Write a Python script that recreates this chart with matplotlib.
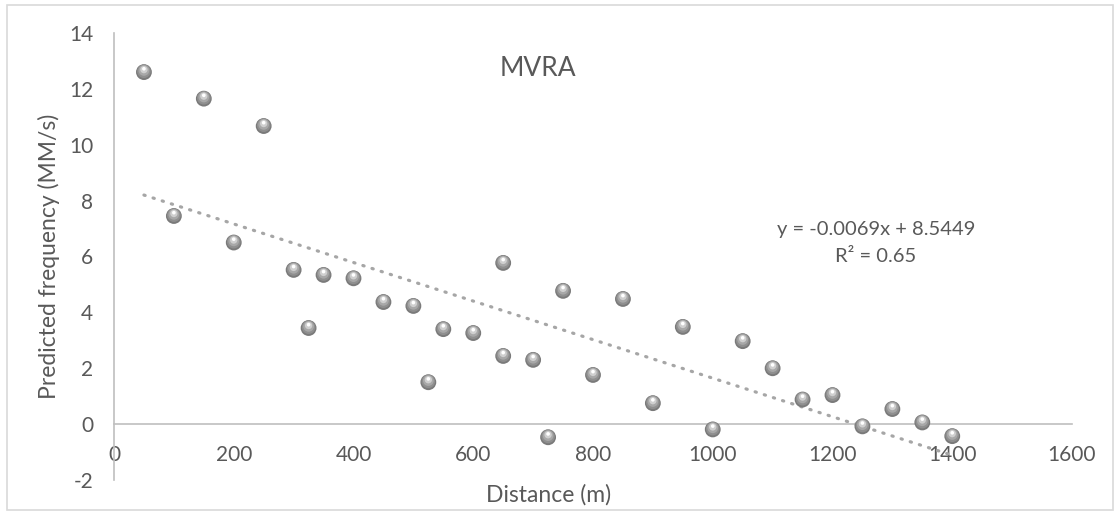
import matplotlib
matplotlib.use("Agg")
import matplotlib.pyplot as plt
import matplotlib.transforms as mtransforms
from matplotlib.patches import Rectangle
import numpy as np

distance = [50, 100, 150, 200, 250, 300, 325, 350, 400, 450, 500, 525, 550, 600,
            650, 650, 700, 725, 750, 800, 850, 900, 950, 1000, 1050, 1100, 1150,
            1200, 1250, 1300, 1350, 1400]
frequency = [12.6, 7.45, 11.65, 6.5, 10.67, 5.52, 3.44, 5.34, 5.22, 4.37, 4.23, 1.5,
             3.4, 3.26, 5.77, 2.44, 2.3, -0.47, 4.77, 1.76, 4.48, 0.75, 3.48, -0.19,
             2.97, 2.0, 0.88, 1.04, -0.08, 0.54, 0.06, -0.43]
slope = -0.0069
intercept = 8.5449
r_squared = 0.65

plt.rcParams['font.family'] = ['Lato', 'DejaVu Sans']
plt.rcParams['axes.unicode_minus'] = False
text_color = '#595959'
axis_color = '#bfbfbf'

fig = plt.figure(figsize=(11.2, 5.14), dpi=100)
ax = fig.add_axes([114 / 1120, 1 - 480 / 514, (1072 - 114) / 1120, (480 - 33) / 514])

# chart border
fig.patches.append(Rectangle((7 / 1120, 4 / 514), 1 - 14 / 1120, 1 - 9 / 514,
                             transform=fig.transFigure, fill=False,
                             edgecolor='#d9d9d9', linewidth=1.2))

# trendline from the fitted equation
tx = np.array([min(distance), max(distance)])
ax.plot(tx, slope * tx + intercept, color='#a6a6a6', linewidth=2.3,
        linestyle=(0, (0.4, 2.6)), dash_capstyle='round', zorder=2)

# sphere-like markers built from stacked circles
x = np.array(distance)
y = np.array(frequency)
layers = [(0, 130, '#7a7a7a'), (0.6, 95, '#8f8f8f'), (1.2, 60, '#a8a8a8'),
          (1.8, 28, '#cfcfcf'), (2.4, 7, '#ffffff')]
for dy, size, col in layers:
    tr = mtransforms.offset_copy(ax.transData, fig=fig, x=0, y=dy, units='points')
    ax.scatter(x, y, s=size, color=col, edgecolors='none', transform=tr, zorder=3)

ax.set_xlim(0, 1600)
ax.set_ylim(-2, 14)
ax.set_xticks(range(0, 1601, 200))
ax.set_yticks(range(-2, 15, 2))

for side in ['top', 'right']:
    ax.spines[side].set_visible(False)
ax.spines['bottom'].set_position(('data', 0))
ax.spines['left'].set_color(axis_color)
ax.spines['bottom'].set_color(axis_color)
ax.spines['left'].set_linewidth(1.2)
ax.spines['bottom'].set_linewidth(1.2)
ax.tick_params(axis='both', length=0, labelsize=15, colors=text_color)
ax.tick_params(axis='y', pad=15)
ax.tick_params(axis='x', pad=15)

fig.text(49 / 1120, 1 - 256 / 514, 'Predicted frequency (MM/s)', rotation=90,
         ha='center', va='center', fontsize=16.5, color=text_color)
fig.text(549 / 1120, 1 - 495 / 514, 'Distance (m)', ha='center', va='center',
         fontsize=16.5, color=text_color)
fig.text(538 / 1120, 1 - 68 / 514, 'MVRA', ha='center', va='center',
         fontsize=19, color=text_color)
fig.text(876 / 1120, 1 - 230 / 514, f'y = {slope}x + {intercept}', ha='center',
         va='center', fontsize=14.5, color=text_color)
fig.text(876 / 1120, 1 - 257 / 514, f'R² = {r_squared}', ha='center',
         va='center', fontsize=14.5, color=text_color)

fig.savefig('out.png', dpi=100)
